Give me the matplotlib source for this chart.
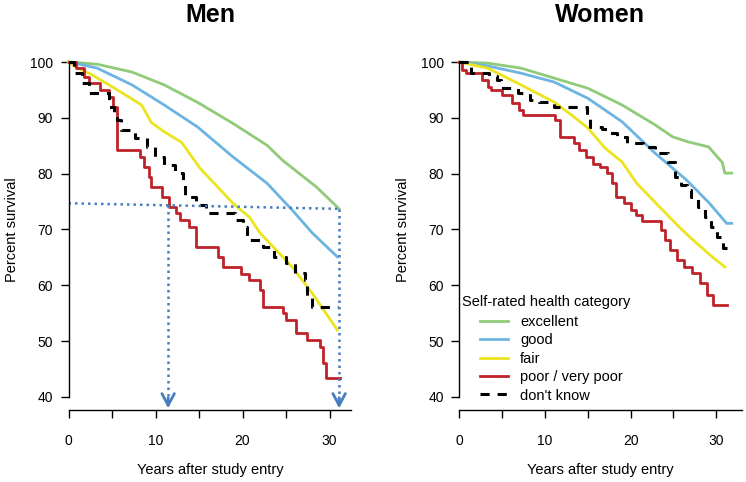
import matplotlib
matplotlib.use('Agg')
import matplotlib.pyplot as plt

plt.rcParams['font.family'] = ['Liberation Sans', 'DejaVu Sans']

# colours of the five groups
c_exc = '#8fcb78'
c_good = '#6cb4e2'
c_fair = '#ebe41f'
c_poor = '#bf2329'

categories = ['excellent', 'good', 'fair', 'poor / very poor', "don't know"]

# ---- Men ----
men_exc_t = [0, 1, 3.3, 7.3, 11, 14.8, 18.9, 22.8, 24.6, 28.5, 31.1]
men_exc_s = [100, 99.9, 99.6, 98.2, 95.9, 92.8, 89.0, 85.1, 82.4, 77.6, 73.7]

men_good_t = [0, 1, 3.3, 7.3, 11, 14.8, 18.9, 22.8, 25.7, 28, 30.9]
men_good_s = [100, 99.7, 98.9, 95.9, 92.3, 88.4, 83.0, 78.3, 73.5, 69.4, 65.1]

men_fair_t = [0, 1, 2.7, 5.3, 8.4, 9.5, 11, 13, 15.1, 18.9, 20.8, 22, 25.7, 28, 30.9]
men_fair_s = [100, 99.0, 97.7, 95.3, 92.3, 89.2, 87.5, 85.6, 81.0, 74.7, 72.2, 69.4, 63.3, 58.6, 52.0]

men_poor_t = [0, 0.9, 1.8, 2.4, 3.6, 4.7, 5.1, 5.6, 8.2, 8.7, 9.3, 9.5, 10.8, 11.6, 12.4, 12.8,
              13.9, 14.7, 17.2, 17.7, 19.8, 20.8, 22.0, 22.3, 24.6, 25.0, 26.2, 27.4, 28.9, 29.2, 29.6, 31.2]
men_poor_s = [100, 98.9, 97.3, 96.2, 95.0, 93.7, 91.9, 84.2, 83.0, 81.2, 79.4, 77.6, 75.8, 74.0, 73.0, 71.7,
              70.4, 66.8, 65.0, 63.3, 62.0, 60.9, 59.1, 56.1, 55.0, 53.8, 51.4, 50.2, 48.9, 46.0, 43.4, 43.4]

men_dk_t = [0, 0.6, 1.6, 2.4, 4.7, 5.2, 5.6, 6.0, 7.6, 9.0, 9.9, 11.0, 12.2, 13.2, 13.4, 14.7,
            15.8, 19.1, 20.1, 20.5, 22.4, 23.6, 25.0, 26.0, 27.2, 27.4, 28.0, 31.0]
men_dk_s = [100, 98.0, 96.2, 94.4, 92.0, 91.0, 89.6, 87.8, 86.4, 84.8, 83.0, 81.5, 80.1, 78.3, 75.8, 74.4,
            72.9, 71.7, 70.4, 68.1, 66.8, 65.0, 64.0, 62.2, 60.9, 57.9, 56.1, 56.1]

# dotted guide lines (men): horizontal from (0, 74.7) to (31.1, 73.7), arrows at 11.45 and 31.1 years
guide_x = [0, 31.1]
guide_y = [74.7, 73.7]
arrow_x = [11.45, 31.1]
arrow_top = [74.4, 73.7]

# ---- Women ----
wom_exc_t = [0, 3.3, 7.2, 11.1, 15, 19, 22.9, 24.9, 26.7, 29.1, 30.7, 31.0, 31.8]
wom_exc_s = [100, 99.8, 98.9, 97.1, 95.3, 92.3, 88.7, 86.6, 85.7, 84.8, 82.0, 80.1, 80.1]

wom_good_t = [0, 3.3, 7.2, 11.1, 15, 19, 22.9, 26.5, 29.2, 31.2, 31.8]
wom_good_s = [100, 99.3, 98.0, 96.4, 93.5, 89.3, 83.6, 78.9, 74.7, 71.1, 71.1]

wom_fair_t = [0, 3.3, 7.2, 11.1, 13.1, 15, 17, 19, 20.7, 23.4, 25.7, 27.3, 29.6, 31.0]
wom_fair_s = [100, 98.9, 95.9, 92.8, 90.5, 88.2, 84.6, 82.1, 78.3, 74.0, 70.4, 68.1, 65.0, 63.3]

wom_poor_t = [0, 0.3, 0.8, 2.7, 3.3, 3.7, 5.0, 6.2, 7.0, 7.4, 11.2, 11.7, 13.4, 14.0, 14.8, 15.6, 16.4,
              17.2, 17.8, 18.3, 19.2, 20.0, 20.6, 21.3, 23.5, 24.0, 24.6, 25.4, 26.2, 27.2, 28.1, 28.9, 29.6, 31.3]
wom_poor_s = [100, 98.6, 98.0, 96.8, 95.5, 95.0, 94.1, 92.6, 91.4, 90.5, 89.6, 86.6, 85.5, 84.2, 83.0, 81.8, 81.2,
              80.1, 78.3, 75.8, 74.7, 73.5, 72.6, 71.5, 69.9, 68.1, 66.3, 64.5, 63.3, 62.2, 60.4, 58.2, 56.5, 56.5]

wom_dk_t = [0, 1.4, 3.5, 4.4, 4.9, 6.8, 8.3, 9.3, 11.0, 14.9, 15.3, 16.6, 17.4, 18.4, 19.6, 21.4,
            22.9, 24.4, 25.2, 25.9, 26.6, 27.1, 27.9, 28.7, 29.4, 30.1, 30.8, 31.3]
wom_dk_s = [100, 98.0, 97.5, 96.8, 95.3, 94.5, 93.2, 92.8, 91.9, 90.1, 88.4, 88.0, 87.3, 86.6, 85.5, 84.8,
            83.7, 82.1, 79.4, 78.0, 77.1, 75.8, 74.0, 72.2, 70.4, 68.6, 66.6, 66.6]

x_ticks = [0, 5, 10, 15, 20, 25, 30]
x_ticklabels = ['0', '', '10', '', '20', '', '30']
y_ticks = [40, 50, 60, 70, 80, 90, 100]

W, H = 746, 482
fig = plt.figure(figsize=(W / 100, H / 100), dpi=100)

def make_axes(x0px, x1px, xmax):
    # bottom of axes = x axis line (pixel 410), y=100 at pixel 62, y=40 at pixel 397
    ppu = (397 - 62) / 60.0
    ymin = 100 - (410 - 62) / ppu
    ymax = 100 + (62 - 45) / ppu
    ax = fig.add_axes([x0px / W, (H - 410) / H, (x1px - x0px) / W, (410 - 45) / H])
    ax.set_xlim(0, xmax)
    ax.set_ylim(ymin, ymax)
    for s in ['top', 'right']:
        ax.spines[s].set_visible(False)
    ax.spines['left'].set_bounds(40, 100)
    ax.spines['left'].set_linewidth(1.0)
    ax.spines['bottom'].set_linewidth(1.0)
    ax.set_xticks(x_ticks)
    ax.set_xticklabels(x_ticklabels)
    ax.set_yticks(y_ticks)
    ax.tick_params(direction='out', length=6, width=1.0, labelsize=10, pad=5)
    ax.tick_params(axis='x', pad=11)
    ax.patch.set_alpha(0)
    return ax

def draw_group(ax, exc, good, fair, poor, dk):
    lw = 2.0
    ax.plot(exc[0], exc[1], color=c_exc, lw=lw, label=categories[0], clip_on=False)
    ax.plot(good[0], good[1], color=c_good, lw=lw, label=categories[1], clip_on=False)
    ax.plot(fair[0], fair[1], color=c_fair, lw=lw, label=categories[2], clip_on=False)
    ax.plot(poor[0], poor[1], color=c_poor, lw=lw, drawstyle='steps-post', label=categories[3], clip_on=False)
    ax.plot(dk[0], dk[1], color='black', lw=2.2, ls=(0, (3, 2.6)), drawstyle='steps-post',
            label=categories[4], clip_on=False)

# Men
ax1 = make_axes(68.5, 351.3, 32.5)
draw_group(ax1, (men_exc_t, men_exc_s), (men_good_t, men_good_s), (men_fair_t, men_fair_s),
           (men_poor_t, men_poor_s), (men_dk_t, men_dk_s))
guide_col = '#4a7dbf'
ax1.plot(guide_x, guide_y, color=guide_col, lw=1.8, ls=(0, (1, 1.6)))
ymin1 = ax1.get_ylim()[0]
for xa, yt in zip(arrow_x, arrow_top):
    ax1.plot([xa, xa], [yt, ymin1 + 2.0], color=guide_col, lw=1.8, ls=(0, (1, 1.6)))
    ax1.annotate('', xy=(xa, ymin1 + 0.3), xytext=(xa, ymin1 + 2.2),
                 arrowprops=dict(arrowstyle='->,head_length=0.85,head_width=0.45',
                                 color=guide_col, lw=2.0, shrinkA=0, shrinkB=0))

# Women
ax2 = make_axes(459.3, 742, 33.0)
draw_group(ax2, (wom_exc_t, wom_exc_s), (wom_good_t, wom_good_s), (wom_fair_t, wom_fair_s),
           (wom_poor_t, wom_poor_s), (wom_dk_t, wom_dk_s))

leg = ax2.legend(loc='upper left', bbox_to_anchor=(480 / W, 1 - 315 / H), bbox_transform=fig.transFigure,
                 frameon=False, fontsize=10.5, handlelength=1.95, handletextpad=0.8,
                 labelspacing=0.3, borderpad=0, borderaxespad=0)
fig.text(462 / W, 1 - 302 / H, 'Self-rated health category', fontsize=10.5, ha='left', va='center')

# titles and axis labels
fig.text(210 / W, 1 - 15 / H, 'Men', fontsize=18, fontweight='bold', ha='center', va='center')
fig.text(600 / W, 1 - 15 / H, 'Women', fontsize=18, fontweight='bold', ha='center', va='center')
fig.text(210 / W, 1 - 470 / H, 'Years after study entry', fontsize=10.5, ha='center', va='center')
fig.text(600 / W, 1 - 470 / H, 'Years after study entry', fontsize=10.5, ha='center', va='center')
fig.text(12 / W, 1 - 230 / H, 'Percent survival', fontsize=10.5, rotation=90, ha='center', va='center')
fig.text(403 / W, 1 - 230 / H, 'Percent survival', fontsize=10.5, rotation=90, ha='center', va='center')

fig.savefig('out.png', dpi=100)
